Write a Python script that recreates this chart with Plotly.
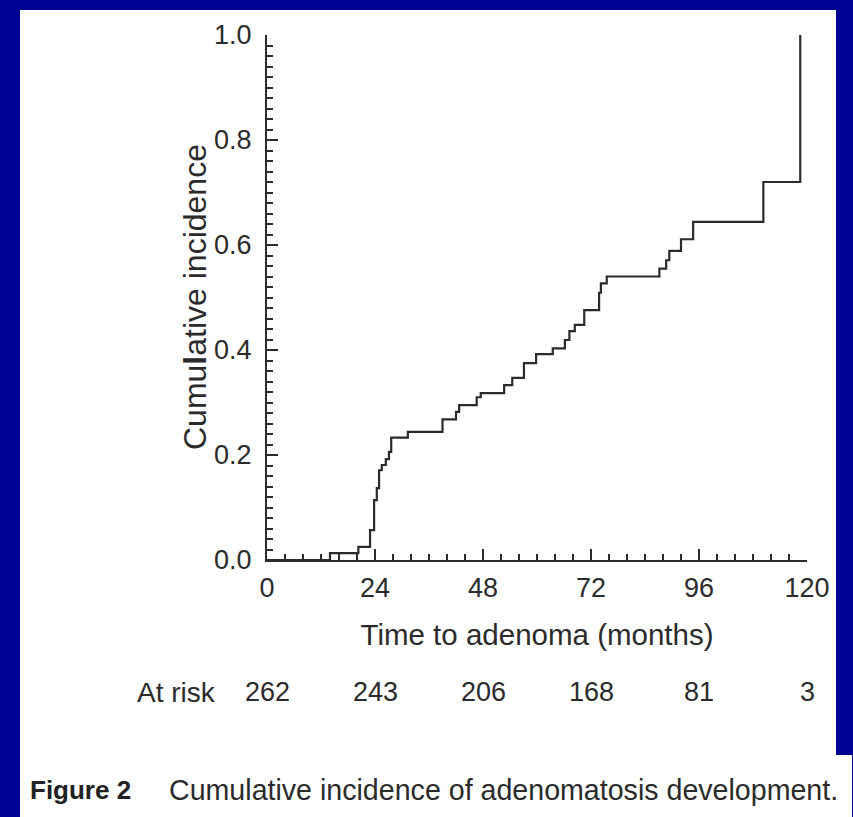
import plotly.graph_objects as go

# ---- data ----
months = [0, 14, 20.3, 22.9, 23.8, 24.4, 24.9, 25.5, 26.4, 27.1, 27.6, 31.3, 39, 42, 42.7,
          46.6, 47.5, 52.7, 54.5, 57.1, 59.8, 63.5, 66.2, 67.2, 68.4, 70.5, 73.8, 74.2,
          75.5, 87.2, 88.7, 89.4, 92, 94.7, 110.3, 118.5]
incidence = [0, 0.013, 0.025, 0.057, 0.114, 0.137, 0.171, 0.181, 0.192, 0.206, 0.233, 0.244,
             0.268, 0.282, 0.295, 0.31, 0.318, 0.333, 0.347, 0.375, 0.392, 0.403, 0.419,
             0.436, 0.448, 0.476, 0.509, 0.527, 0.540, 0.555, 0.571, 0.589, 0.611, 0.644,
             0.72, 1.0]
x_ticks = [0, 24, 48, 72, 96, 120]
at_risk = [262, 243, 206, 168, 81, 3]

INK = "#2b2b2b"
TXT = "Liberation Sans, Arial, sans-serif"
NUM = "Liberation Sans, Arial, sans-serif"
BLUE = "rgb(0,0,146)"

fig = go.Figure()
fig.add_trace(go.Scatter(x=months, y=incidence, mode="lines", line_shape="hv",
                         line=dict(color=INK, width=2.2), showlegend=False,
                         hoverinfo="skip"))

W, H = 853, 817
L, R, T, B = 267, 46, 35, 257
pw, ph = W - L - R, H - T - B

def px(xp):
    return (xp - L) / pw

def py(yp):
    return (H - B - yp) / ph

# white panel on blue frame
fig.add_shape(type="rect", xref="paper", yref="paper", x0=px(20), x1=px(836),
              y0=py(817), y1=py(10), fillcolor="white", line=dict(width=0), layer="below")
fig.add_shape(type="rect", xref="paper", yref="paper", x0=px(20), x1=px(852),
              y0=py(817), y1=py(755), fillcolor="white", line=dict(width=0), layer="below")

annots = []
for t, n in zip(x_ticks, at_risk):
    annots.append(dict(x=t, y=py(692), xref="x", yref="paper", text=str(n), showarrow=False,
                       xanchor="center", yanchor="middle",
                       font=dict(family=NUM, size=27, color=INK)))
annots.append(dict(x=px(218), y=py(692), xref="paper", yref="paper", text="At risk",
                   showarrow=False, xanchor="right", yanchor="middle",
                   font=dict(family=TXT, size=28, color=INK)))
annots.append(dict(x=px(28), y=py(790), xref="paper", yref="paper", text="<b>Figure 2</b>",
                   showarrow=False, xanchor="left", yanchor="middle",
                   font=dict(family=TXT, size=26, color="#222")))
annots.append(dict(x=px(167), y=py(790), xref="paper", yref="paper",
                   text="Cumulative incidence of adenomatosis development.",
                   showarrow=False, xanchor="left", yanchor="middle",
                   font=dict(family=TXT, size=28.6, color=INK)))
annots.append(dict(x=px(195), y=py(297), xref="paper", yref="paper",
                   text="Cumu<b>l</b>ative incidence", textangle=-90,
                   showarrow=False, xanchor="center", yanchor="middle",
                   font=dict(family=TXT, size=32, color=INK)))

fig.update_layout(
    width=W, height=H, autosize=False,
    margin=dict(l=L, r=R, t=T, b=B, pad=0),
    paper_bgcolor=BLUE, plot_bgcolor="white",
    annotations=annots,
    xaxis=dict(range=[0, 120], tickvals=x_ticks, ticks="inside", ticklen=11, tickwidth=2,
               tickcolor=INK, showline=True, linewidth=2, linecolor=INK, showgrid=False,
               zeroline=False, ticklabelstandoff=3,
               tickfont=dict(family=NUM, size=27, color=INK),
               minor=dict(dtick=4, ticks="inside", ticklen=6, tickwidth=2, tickcolor=INK,
                          showgrid=False),
               title=dict(text="Time to adenoma (months)", standoff=22,
                          font=dict(family=TXT, size=29.5, color=INK))),
    yaxis=dict(range=[0, 1], dtick=0.2, tickformat=".1f", ticks="inside", ticklen=11,
               tickwidth=2, tickcolor=INK, showline=True, linewidth=2, linecolor=INK,
               showgrid=False, zeroline=False, ticklabelstandoff=8,
               tickfont=dict(family=NUM, size=27, color=INK),
               minor=dict(dtick=0.02, ticks="inside", ticklen=6, tickwidth=2, tickcolor=INK,
                          showgrid=False)),
)

fig.write_html("out.html", config={"displayModeBar": False},
               post_script="document.body.style.margin='0';"
                           "document.body.style.background='rgb(0,0,146)';")
